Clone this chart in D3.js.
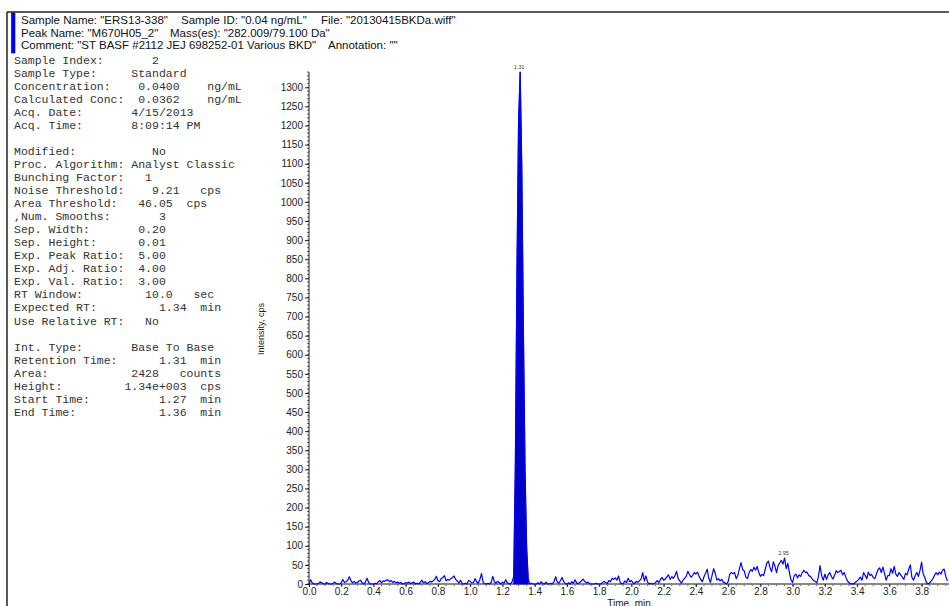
<!DOCTYPE html>
<html>
<head>
<meta charset="utf-8">
<script src="https://cdn.jsdelivr.net/npm/d3@7"></script>
<style>
  body { margin: 0; background: #fff; }
  svg { display: block; }
  .hdr { font-family: Arial, "Liberation Sans", sans-serif; font-size: 11.5px; fill: #111; }
  .info { font-family: "Courier New", "Liberation Mono", monospace; font-size: 11.5px; fill: #333; white-space: pre; }
  .tick text { font-family: Arial, "Liberation Sans", sans-serif; font-size: 10px; fill: #222; }
</style>
</head>
<body>
<svg width="949" height="606"></svg>
<script>
const svg = d3.select("svg"),
    width = +svg.attr("width"),
    height = +svg.attr("height");

// header lines
const headerLine1 = ['Sample Name: "ERS13-338"', 'Sample ID: "0.04 ng/mL"', 'File: "20130415BKDa.wiff"']
const headerLine2 = ['Peak Name: "M670H05_2"', 'Mass(es): "282.009/79.100 Da"']
const headerLine3 = ['Comment: "ST BASF #2112 JEJ 698252-01 Various BKD"', 'Annotation: ""']

// sample / peak info (monospaced block)
const infoLines = [
    "Sample Index:       2",
    "Sample Type:     Standard",
    "Concentration:    0.0400    ng/mL",
    "Calculated Conc:  0.0362    ng/mL",
    "Acq. Date:       4/15/2013",
    "Acq. Time:       8:09:14 PM",
    "",
    "Modified:           No",
    "Proc. Algorithm: Analyst Classic",
    "Bunching Factor:   1",
    "Noise Threshold:    9.21   cps",
    "Area Threshold:   46.05  cps",
    ",Num. Smooths:       3",
    "Sep. Width:       0.20",
    "Sep. Height:      0.01",
    "Exp. Peak Ratio:  5.00",
    "Exp. Adj. Ratio:  4.00",
    "Exp. Val. Ratio:  3.00",
    "RT Window:         10.0   sec",
    "Expected RT:         1.34  min",
    "Use Relative RT:   No",
    "",
    "Int. Type:       Base To Base",
    "Retention Time:      1.31  min",
    "Area:            2428   counts",
    "Height:         1.34e+003  cps",
    "Start Time:          1.27  min",
    "End Time:            1.36  min"
]

// chromatogram: intensity (cps) sampled every 0.01 min from 0.00 min
const sampleStep = 0.01
const intensity = [
    0, 11, 3, 0, 0, 0, 2, 5, 3, 0, 0, 4, 1, 0, 0, 2, 5, 1, 0, 0,
    3, 12, 4, 6, 10, 19, 9, 3, 7, 2, 4, 8, 10, 3, 0, 5, 15, 4, 0, 0,
    0, 2, 0, 6, 9, 3, 8, 7, 10, 11, 6, 9, 4, 7, 3, 5, 2, 4, 0, 1,
    4, 2, 5, 1, 3, 5, 0, 2, 0, 4, 10, 3, 6, 1, 3, 7, 5, 8, 12, 20,
    9, 6, 14, 17, 22, 8, 12, 10, 14, 17, 21, 12, 8, 2, 10, 1, 0, 2, 0, 9,
    7, 3, 4, 14, 6, 2, 12, 27, 4, 1, 0, 2, 0, 4, 20, 6, 2, 7, 4, 0,
    5, 2, 11, 3, 1, 0, 6, 20, 310, 820, 1210, 1340, 1090, 660, 300, 95, 12, 0, 2, 0,
    0, 0, 3, 0, 6, 1, 0, 5, 0, 0, 2, 0, 6, 19, 5, 2, 9, 17, 6, 1,
    0, 3, 0, 6, 2, 11, 3, 1, 4, 8, 13, 7, 3, 5, 1, 0, 0, 0, 2, 0,
    0, 0, 3, 7, 4, 1, 9, 6, 15, 12, 16, 10, 21, 5, 0, 2, 8, 4, 15, 6,
    9, 3, 1, 7, 4, 9, 13, 30, 8, 21, 5, 0, 2, 0, 1, 4, 9, 3, 12, 17,
    10, 13, 19, 24, 12, 19, 15, 22, 33, 14, 8, 2, 10, 15, 20, 33, 25, 18, 22, 30,
    26, 31, 20, 12, 6, 19, 28, 39, 15, 4, 22, 40, 28, 10, 14, 8, 12, 5, 3, 0,
    6, 26, 30, 27, 30, 14, 22, 40, 56, 38, 34, 18, 14, 30, 38, 33, 44, 36, 46, 30,
    20, 25, 22, 38, 55, 60, 42, 32, 58, 47, 30, 48, 55, 62, 52, 68, 40, 54, 30, 10,
    4, 22, 26, 16, 24, 20, 30, 36, 30, 31, 22, 20, 14, 9, 7, 3, 20, 48, 22, 10,
    26, 12, 24, 30, 20, 13, 22, 35, 30, 33, 36, 24, 30, 18, 8, 4, 0, 1, 0, 5,
    8, 12, 18, 10, 30, 22, 14, 31, 22, 25, 17, 14, 26, 38, 42, 30, 44, 28, 10, 22,
    22, 40, 28, 46, 26, 20, 30, 24, 18, 12, 28, 24, 38, 50, 17, 10, 22, 30, 20, 35,
    57, 26, 17, 4, 0, 3, 8, 14, 22, 30, 24, 31, 26, 36, 39, 20, 8
]

// integrated peak and labelled apexes
const peakStart = 1.27, peakEnd = 1.36
const peakLabels = [{ rt: 1.31, label: "1.31" }, { rt: 2.95, label: "2.95" }]

const xTicks = d3.range(0, 20).map(i => i * 0.2)
const yTicks = d3.range(0, 27).map(i => i * 50)

const data = intensity.map((v, i) => ({ t: i * sampleStep, v: v }))

////////////////////////
// frame + header
svg.append("line").attr("x1", 7).attr("x2", width).attr("y1", 12).attr("y2", 12)
    .attr("stroke", "#222").attr("stroke-width", 1.5)
svg.append("line").attr("x1", 7).attr("x2", 7).attr("y1", 12).attr("y2", height)
    .attr("stroke", "#222").attr("stroke-width", 1.5)
svg.append("rect").attr("x", 11.5).attr("y", 13).attr("width", 3.5).attr("height", 40)
    .attr("fill", "#0000ff").attr("stroke", "#000044").attr("stroke-width", 0.6)

const headerRows = [
    { y: 24, parts: headerLine1, xs: [21, 181, 321] },
    { y: 36.5, parts: headerLine2, xs: [21, 170] },
    { y: 48.5, parts: headerLine3, xs: [21, 328] }
]
headerRows.forEach(row => {
    row.parts.forEach((p, i) => {
        svg.append("text").attr("class", "hdr")
            .attr("x", row.xs[i]).attr("y", row.y).text(p)
    })
})

svg.append("g").selectAll("text")
    .data(infoLines)
    .enter()
    .append("text")
    .attr("class", "info")
    .attr("x", 14)
    .attr("y", (d, i) => 63.5 + i * 13.05)
    .text(d => d)

////////////////////////
// chart
const x = d3.scaleLinear().domain([0, 3.97]).range([309, 949])
const y = d3.scaleLinear().domain([0, 1340]).range([584, 72])

const g = svg.append("g")

// minor y ticks
g.append("g").selectAll("line")
    .data(d3.range(0, 1341, 10))
    .enter().append("line")
    .attr("x1", 307).attr("x2", 309)
    .attr("y1", d => y(d)).attr("y2", d => y(d))
    .attr("stroke", "#333").attr("stroke-width", 0.8)

const yAxis = g.append("g")
    .attr("transform", "translate(309,0)")
    .call(d3.axisLeft(y).tickValues(yTicks).tickSize(4).tickPadding(2).tickFormat(d3.format("d")))
yAxis.select(".domain").attr("stroke", "#222").attr("d", "M0," + y(1340) + "V" + y(0))
yAxis.selectAll(".tick line").attr("stroke", "#222")

// minor x ticks
g.append("g").selectAll("line")
    .data(d3.range(0, 80).map(i => i * 0.05))
    .enter().append("line")
    .attr("x1", d => x(d)).attr("x2", d => x(d))
    .attr("y1", 584).attr("y2", 586)
    .attr("stroke", "#333").attr("stroke-width", 0.8)

const xAxis = g.append("g")
    .attr("transform", "translate(0,584)")
    .call(d3.axisBottom(x).tickValues(xTicks).tickSize(3).tickPadding(1).tickFormat(d3.format(".1f")))
xAxis.select(".domain").attr("stroke", "#888").attr("stroke-width", 2).attr("d", "M309,0H949")
xAxis.selectAll(".tick line").attr("stroke", "#222")

svg.append("text")
    .attr("transform", "translate(264,329) rotate(-90)")
    .attr("text-anchor", "middle")
    .style("font-family", "Arial, 'Liberation Sans', sans-serif")
    .style("font-size", "9px")
    .attr("fill", "#222")
    .text("Intensity, cps")

svg.append("text")
    .attr("x", 629).attr("y", 607)
    .attr("text-anchor", "middle")
    .style("font-family", "Arial, 'Liberation Sans', sans-serif")
    .style("font-size", "10px")
    .attr("fill", "#222")
    .text("Time, min")

// integrated peak fill
const peakData = data.filter(d => d.t >= peakStart - 1e-6 && d.t <= peakEnd + 1e-6)
g.append("path")
    .datum(peakData)
    .attr("fill", "#0000c8")
    .attr("stroke", "#0000c8")
    .attr("stroke-width", 0.8)
    .attr("d", d3.area().x(d => x(d.t)).y0(y(0)).y1(d => y(d.v)))

// trace
g.append("path")
    .datum(data)
    .attr("fill", "none")
    .attr("stroke", "#0000ff")
    .attr("stroke-width", 1.2)
    .attr("stroke-linejoin", "round")
    .attr("d", d3.line().x(d => x(d.t)).y(d => y(d.v)))

// apex labels
g.selectAll(".apex")
    .data(peakLabels)
    .enter().append("text")
    .attr("class", "apex")
    .attr("x", d => x(d.rt) - 1)
    .attr("y", d => y(data[Math.round(d.rt / sampleStep)].v) - 3)
    .attr("text-anchor", "middle")
    .style("font-family", "Arial, 'Liberation Sans', sans-serif")
    .style("font-size", "5.5px")
    .attr("fill", "#444")
    .text(d => d.label)
</script>
</body>
</html>
